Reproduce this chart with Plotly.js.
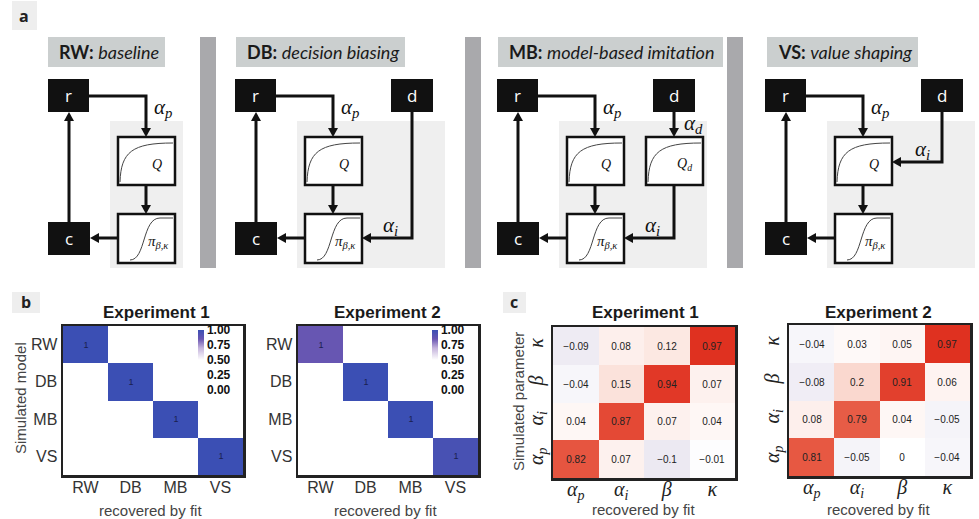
<!DOCTYPE html>
<html><head><meta charset="utf-8">
<script src="https://cdn.plot.ly/plotly-3.0.1.min.js"></script>
<style>html,body{margin:0;padding:0;background:#fff}#chart{width:979px;height:519px}</style>
</head><body><div id="chart"></div>
<script>
// ---------- data ----------
const modelNames = ['RW', 'DB', 'MB', 'VS'];
const modelExp1 = [[1,0,0,0],[0,1,0,0],[0,0,1,0],[0,0,0,1]];
const modelExp2 = [[0.86,0,0,0],[0,1,0,0],[0,0,1,0],[0,0,0,0.96]];
const cbTicks = [0, 0.25, 0.5, 0.75, 1];
const cbTickText = ['0.00', '0.25', '0.50', '0.75', '1.00'];

const paramKeys = ['ap', 'ai', 'b', 'k'];
const paramText = ['<i>α<sub>p</sub></i>', '<i>α<sub>i</sub></i>', '<i>β</i>', '<i>κ</i>'];
const paramRowsTopDown = ['k', 'b', 'ai', 'ap'];
const paramRowText = ['<i>κ</i>', '<i>β</i>', '<i>α<sub>i</sub></i>', '<i>α<sub>p</sub></i>'];
const paramExp1 = [[-0.09,0.08,0.12,0.97],[-0.04,0.15,0.94,0.07],[0.04,0.87,0.07,0.04],[0.82,0.07,-0.1,-0.01]];
const paramExp2 = [[-0.04,0.03,0.05,0.97],[-0.08,0.2,0.91,0.06],[0.08,0.79,0.04,-0.05],[0.81,-0.05,0,-0.04]];

// ---------- helpers (pixel -> paper) ----------
const W = 979, H = 519;
const px = x => x / W, py = y => 1 - y / H;
const shapes = [], ann = [];
function rect(x0, y0, x1, y1, fill, lc, lw) {
  shapes.push({type:'rect', xref:'paper', yref:'paper', x0:px(x0), x1:px(x1), y0:py(y1), y1:py(y0),
    fillcolor:fill, line:{color:lc||fill, width:lw||0}, layer:'below'});
}
function pth(pts, close) {
  return pts.map((p,i)=>(i?'L':'M')+px(p[0]).toFixed(5)+','+py(p[1]).toFixed(5)).join(' ')+(close?' Z':'');
}
function poly(pts) {
  shapes.push({type:'path', xref:'paper', yref:'paper', path:pth(pts), line:{color:'#111', width:3}, fillcolor:'rgba(0,0,0,0)', layer:'below'});
}
function head(x, y, dir) {
  const s = 9, w = 5; let pts;
  if (dir==='down') pts=[[x,y],[x-w,y-s],[x+w,y-s]];
  if (dir==='up') pts=[[x,y],[x-w,y+s],[x+w,y+s]];
  if (dir==='left') pts=[[x,y],[x+s,y-w],[x+s,y+w]];
  shapes.push({type:'path', xref:'paper', yref:'paper', path:pth(pts,true), line:{width:0}, fillcolor:'#111', layer:'below'});
}
function curve(d) {
  let s = '';
  d.forEach(c => { s += c[0]; for (let i=1;i<c.length;i+=2) s += (i>1?' ':'') + px(c[i]).toFixed(5)+','+py(c[i+1]).toFixed(5); s+=' '; });
  shapes.push({type:'path', xref:'paper', yref:'paper', path:s.trim(), line:{color:'#444', width:1}, fillcolor:'rgba(0,0,0,0)', layer:'below'});
}
function txt(x, y, t, font, extra) {
  ann.push(Object.assign({xref:'paper', yref:'paper', x:px(x), y:py(y), text:t, showarrow:false,
    xanchor:'center', yanchor:'middle', font:font}, extra||{}));
}
const mathFont = {family:'Liberation Serif', size:21, color:'#111'};
const boxFont = {family:'Open Sans', size:17, color:'#fff'};

function qBox(x0, y0, x1, y1, label) {
  rect(x0, y0, x1, y1, '#ffffff', '#111', 2.5);
  curve([['M', x0+2, y1-3], ['C', x0+3, y0+15, x0+14, y0+6, x1-2, y0+6]]);
  txt((x0+x1)/2 + (label.length>3?10:0), y0+27, label, {family:'Liberation Serif', size:14, color:'#111'});
}
function piBox(x0, y0, x1, y1) {
  rect(x0, y0, x1, y1, '#ffffff', '#111', 2.5);
  curve([['M', x0+12, y1-3], ['C', x0+28, y1-3, x0+24, y0+4, x0+42, y0+4], ['L', x1-2, y0+4]]);
  txt(x0+40, y0+28, '<i>π<sub>β,κ</sub></i>', {family:'Liberation Serif', size:15, color:'#111'});
}
function blk(x0, y0, x1, y1, t) {
  rect(x0, y0, x1, y1, '#111', '#111', 0);
  txt((x0+x1)/2, (y0+y1)/2, t, boxFont);
}
function diagram(ox, kind) {
  const qx0 = ox+70, qx1 = ox+127, ax = ox+98, dx = ox+177;
  rect(ox+62, 121, kind==='RW' ? ox+135 : ox+210, 268, '#efefef');
  qBox(qx0, 137, qx1, 185, '<i>Q</i>');
  piBox(qx0, 214, qx1, 263);
  poly([[ox+41,96],[ax,96],[ax,130]]); head(ax,137,'down');
  txt(ax+17, 108, '<i>α<sub>p</sub></i>', mathFont);
  poly([[ax,185],[ax,207]]); head(ax,214,'down');
  poly([[qx0,238],[ox+50,238]]); head(ox+42,238,'left');
  poly([[ox+21,222],[ox+21,119]]); head(ox+21,112,'up');
  if (kind==='DB') {
    poly([[dx,112],[dx,238],[qx1+8,238]]); head(qx1,238,'left');
    txt(ox+155, 226, '<i>α<sub>i</sub></i>', mathFont);
  }
  if (kind==='MB') {
    qBox(ox+149, 137, ox+206, 185, '<i>Q<sub>d</sub></i>');
    poly([[dx,112],[dx,130]]); head(dx,137,'down');
    txt(ox+196, 124, '<i>α<sub>d</sub></i>', mathFont);
    poly([[dx,185],[dx,238],[qx1+8,238]]); head(qx1,238,'left');
    txt(ox+155, 226, '<i>α<sub>i</sub></i>', mathFont);
  }
  if (kind==='VS') {
    poly([[dx,112],[dx,162],[qx1+8,162]]); head(qx1,162,'left');
    txt(ox+157, 150, '<i>α<sub>i</sub></i>', mathFont);
  }
  blk(ox, 79, ox+41, 112, 'r');
  blk(ox, 222, ox+42, 255, 'c');
  if (kind!=='RW') blk(ox+156, 79, ox+198, 112, 'd');
}

// ---------- panel a ----------
rect(12, 1, 37, 30, '#eeeeee');
txt(24, 16, '<b>a</b>', {family:'Open Sans', size:16, color:'#222'});
[[200,216],[465,481],[727,743]].forEach(s => rect(s[0], 37, s[1], 268, '#a9a9ac'));
const titles = [[48,165,'RW','baseline'],[236,405,'DB','decision biasing'],[498,723,'MB','model-based imitation'],[767,918,'VS','value shaping']];
titles.forEach(t => {
  rect(t[0], 37, t[1], 67, '#cbcfcf');
  txt(t[0]+9, 52, '<b>'+t[2]+':</b> <i>'+t[3]+'</i>', {family:'Lato', size:18, color:'#1a1a1a'}, {xanchor:'left'});
});
diagram(48, 'RW'); diagram(235, 'DB'); diagram(497, 'MB'); diagram(765, 'VS');

// ---------- panel labels b, c ----------
rect(12, 292, 40, 313, '#eeeeee');
txt(26, 302, '<b>b</b>', {family:'Open Sans', size:16, color:'#222'});
rect(503, 292, 526, 313, '#eeeeee');
txt(514, 302, '<b>c</b>', {family:'Open Sans', size:16, color:'#222'});

const titleFont = {family:'Liberation Sans', size:17, color:'#1a1a1a', weight:'bold'};
const axTitleFont = {family:'Liberation Sans', size:15, color:'#444'};
txt(156, 312, 'Experiment 1', titleFont);
txt(387, 312, 'Experiment 2', titleFont);
txt(645, 312, 'Experiment 1', titleFont);
txt(878, 312, 'Experiment 2', titleFont);
txt(150, 510, 'recovered by fit', axTitleFont);
txt(385, 510, 'recovered by fit', axTitleFont);
txt(643, 509, 'recovered by fit', axTitleFont);
txt(878, 509, 'recovered by fit', axTitleFont);
txt(20, 398, 'Simulated model', axTitleFont, {textangle:-90});
txt(518, 402, 'Simulated parameter', axTitleFont, {textangle:-90});

// ---------- heatmaps ----------
const blueScale = [[0,'#ffffff'],[0.5,'#ffffff'],[0.7,'#c4b3dc'],[0.85,'#6a56b2'],[1,'#3b4fb4']];
const divScale = [[0,'#3f1f7f'],[0.5,'#ffffff'],[0.8,'#f08a6e'],[1,'#de2a1a']];
function modelTrace(z, xa, ya, cbx) {
  return {type:'heatmap', x:modelNames, y:modelNames, z:z, xaxis:xa, yaxis:ya,
    zmin:0, zmax:1, colorscale:blueScale,
    text:z.map(r=>r.map(v=>v>=0.5?String(Math.round(v)):'')), texttemplate:'%{text}',
    textfont:{family:'Liberation Sans', size:9, color:'#1a2050'}, hoverinfo:'skip',
    colorbar:{x:px(cbx), xanchor:'left', y:py(330), yanchor:'top', lenmode:'pixels', len:60,
      thicknessmode:'pixels', thickness:6, xpad:0, ypad:0, outlinewidth:0, ticks:'',
      tickmode:'array', tickvals:cbTicks, ticktext:cbTickText,
      tickfont:{family:'Liberation Sans', size:12, color:'#111', weight:'bold'}}};
}
function paramTrace(z, xa, ya) {
  return {type:'heatmap', x:paramKeys, y:paramRowsTopDown, z:z, xaxis:xa, yaxis:ya,
    zmin:-1, zmax:1, colorscale:divScale, showscale:false, texttemplate:'%{z}',
    textfont:{family:'Liberation Sans', size:10, color:'#222'}, hoverinfo:'skip'};
}
const data = [
  modelTrace(modelExp1, 'x', 'y', 198),
  modelTrace(modelExp2, 'x2', 'y2', 432),
  paramTrace(paramExp1, 'x3', 'y3'),
  paramTrace(paramExp2, 'x4', 'y4')
];
const frame = {showline:true, mirror:true, linewidth:2.5, linecolor:'#222', showgrid:false, zeroline:false, ticks:'', fixedrange:true};
const mTick = {family:'Liberation Sans', size:16, color:'#333'};
const pTick = {family:'Liberation Serif', size:20, color:'#222'};
function ax(o) { return Object.assign({}, frame, o); }
const layout = {
  width:W, height:H, margin:{l:0,r:0,t:0,b:0}, paper_bgcolor:'#fff', plot_bgcolor:'#fff', showlegend:false,
  xaxis: ax({domain:[px(63),px(243)], anchor:'y', tickfont:mTick, ticklabelstandoff:-4}),
  yaxis: ax({domain:[py(475),py(326)], anchor:'x', autorange:'reversed', tickfont:mTick}),
  xaxis2: ax({domain:[px(298),px(478)], anchor:'y2', tickfont:mTick, ticklabelstandoff:-4}),
  yaxis2: ax({domain:[py(475),py(326)], anchor:'x2', autorange:'reversed', tickfont:mTick}),
  xaxis3: ax({domain:[px(553),px(735)], anchor:'y3', tickfont:pTick, tickmode:'array', tickvals:paramKeys, ticktext:paramText, ticklabelstandoff:-9}),
  yaxis3: ax({domain:[py(478),py(327)], anchor:'x3', autorange:'reversed', tickfont:pTick, tickangle:-90, tickmode:'array', tickvals:paramRowsTopDown, ticktext:paramRowText}),
  xaxis4: ax({domain:[px(789),px(970)], anchor:'y4', tickfont:pTick, tickmode:'array', tickvals:paramKeys, ticktext:paramText, ticklabelstandoff:-9}),
  yaxis4: ax({domain:[py(476),py(325)], anchor:'x4', autorange:'reversed', tickfont:pTick, tickangle:-90, tickmode:'array', tickvals:paramRowsTopDown, ticktext:paramRowText}),
  shapes:shapes, annotations:ann
};
Plotly.newPlot('chart', data, layout, {staticPlot:true, displayModeBar:false});
</script></body></html>
